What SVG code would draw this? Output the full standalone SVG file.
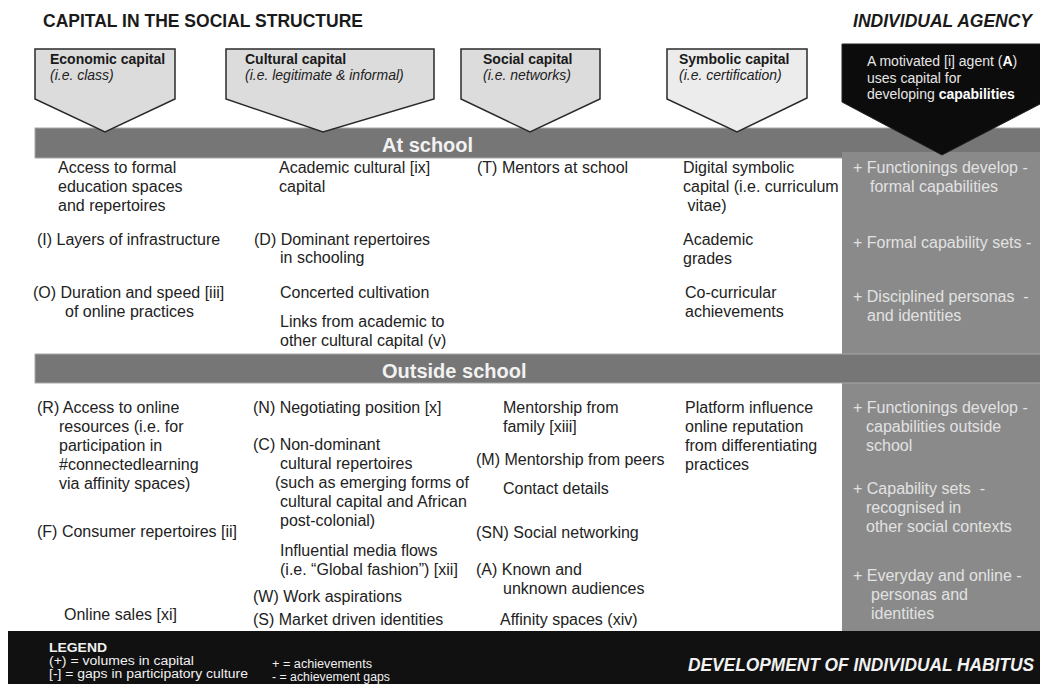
<svg xmlns="http://www.w3.org/2000/svg" width="1040" height="684" viewBox="0 0 1040 684">
<style>
text{font-family:"Liberation Sans",Arial,sans-serif}
.title{font-size:17.5px;font-weight:bold;fill:#1a1a1a}
.titlei{font-size:17.5px;font-weight:bold;font-style:italic;fill:#1a1a1a}
.pent{fill:#dcdcdc;stroke:#2a2a2a;stroke-width:1.5}
.hb{font-size:14px;font-weight:bold;fill:#1a1a1a}
.hi{font-size:14px;font-style:italic;fill:#222}
.bar{fill:#767676;stroke:#a8a8a8;stroke-width:1}
.barT{font-size:20px;font-weight:bold;fill:#f2f2f2}
.t{font-size:16px;fill:#222;white-space:pre}
.g{font-size:16px;fill:#e2e2e2;white-space:pre}
.leg{font-size:12px;fill:#f0f0f0}
</style>

<g id="headings">
<text class="title" x="43" y="27" textLength="320" lengthAdjust="spacingAndGlyphs">CAPITAL IN THE SOCIAL STRUCTURE</text>
<text class="titlei" x="1032" y="27" text-anchor="end">INDIVIDUAL AGENCY</text>
</g>

<g id="bar-at-school">
<rect class="bar" x="35" y="128" width="1010" height="30"/>
</g>

<g id="agency-column">
<rect x="842" y="152" width="200" height="480" fill="#8a8a8a"/>
</g>

<g id="bar-outside-school">
<rect class="bar" x="35" y="354" width="1010" height="29"/>
<text class="barT" x="382" y="378">Outside school</text>
</g>
<text class="barT" x="382" y="152">At school</text>

<g id="economic-capital">
<polygon class="pent" points="35,49 175,49 175,99 105,132 35,99"/>
<text class="hb" x="50" y="64">Economic capital</text>
<text class="hi" x="50" y="80">(i.e. class)</text>
</g>
<g id="cultural-capital">
<polygon class="pent" points="226,49 434,49 434,99 323,132 226,99"/>
<text class="hb" x="245" y="64">Cultural capital</text>
<text class="hi" x="245" y="80">(i.e. legitimate &amp; informal)</text>
</g>
<g id="social-capital">
<polygon class="pent" points="461,49 600,49 600,99 530,132 461,99"/>
<text class="hb" x="483" y="64">Social capital</text>
<text class="hi" x="483" y="80">(i.e. networks)</text>
</g>
<g id="symbolic-capital">
<polygon class="pent" style="fill:#ececec" points="667,49 807,49 807,98 737,132 667,99"/>
<text class="hb" x="679" y="64">Symbolic capital</text>
<text class="hi" x="679" y="80">(i.e. certification)</text>
</g>
<g id="agent">
<polygon points="842,44 1042,44 1042,103 942,155 842,102" fill="#0c0c0c" stroke="#222" stroke-width="1"/>
<text x="867" y="66" style="font-size:14px;fill:#e6e6e6">A motivated [i] agent (<tspan font-weight="bold" fill="#fff">A</tspan>)</text>
<text x="867" y="82.5" style="font-size:14px;fill:#e6e6e6">uses capital for</text>
<text x="867" y="99" style="font-size:14px;fill:#e6e6e6">developing <tspan font-weight="bold" fill="#fff">capabilities</tspan></text>
</g>

<g id="school-economic">
<text class="t" x="58" y="173">Access to formal</text>
<text class="t" x="58" y="192">education spaces</text>
<text class="t" x="58" y="211">and repertoires</text>
<text class="t" x="37" y="245">(I) Layers of infrastructure</text>
<text class="t" x="33" y="298">(O) Duration and speed [iii]</text>
<text class="t" x="65" y="317">of online practices</text>
</g>
<g id="school-cultural">
<text class="t" x="279" y="173">Academic cultural [ix]</text>
<text class="t" x="279" y="192">capital</text>
<text class="t" x="254" y="245">(D) Dominant repertoires</text>
<text class="t" x="280" y="263">in schooling</text>
<text class="t" x="280" y="298">Concerted cultivation</text>
<text class="t" x="280" y="327">Links from academic to</text>
<text class="t" x="280" y="346">other cultural capital (v)</text>
</g>
<g id="school-social">
<text class="t" x="477" y="173">(T) Mentors at school</text>
</g>
<g id="school-symbolic">
<text class="t" x="683" y="173">Digital symbolic</text>
<text class="t" x="683" y="192">capital (i.e. curriculum</text>
<text class="t" x="683" y="211"> vitae)</text>
<text class="t" x="683" y="245">Academic</text>
<text class="t" x="683" y="264">grades</text>
<text class="t" x="685" y="298">Co-curricular</text>
<text class="t" x="685" y="317">achievements</text>
</g>
<g id="school-agency">
<text class="g" x="853" y="173">+ Functionings develop -</text>
<text class="g" x="870" y="192">formal capabilities</text>
<text class="g" x="853" y="248">+ Formal capability sets -</text>
<text class="g" x="853" y="302">+ Disciplined personas  -</text>
<text class="g" x="867" y="321">and identities</text>
</g>

<g id="outside-economic">
<text class="t" x="37" y="413">(R) Access to online</text>
<text class="t" x="59" y="432">resources (i.e. for</text>
<text class="t" x="59" y="451">participation in</text>
<text class="t" x="59" y="470">#connectedlearning</text>
<text class="t" x="59" y="489">via affinity spaces)</text>
<text class="t" x="37" y="537">(F) Consumer repertoires [ii]</text>
<text class="t" x="64" y="620">Online sales [xi]</text>
</g>
<g id="outside-cultural">
<text class="t" x="253" y="413">(N) Negotiating position [x]</text>
<text class="t" x="253" y="450">(C) Non-dominant</text>
<text class="t" x="280" y="469">cultural repertoires</text>
<text class="t" x="275" y="488">(such as emerging forms of</text>
<text class="t" x="280" y="507">cultural capital and African</text>
<text class="t" x="280" y="526">post-colonial)</text>
<text class="t" x="280" y="556">Influential media flows</text>
<text class="t" x="280" y="575">(i.e. “Global fashion”) [xii]</text>
<text class="t" x="253" y="602">(W) Work aspirations</text>
<text class="t" x="253" y="625">(S) Market driven identities</text>
</g>
<g id="outside-social">
<text class="t" x="503" y="413">Mentorship from</text>
<text class="t" x="503" y="432">family [xiii]</text>
<text class="t" x="476" y="465">(M) Mentorship from peers</text>
<text class="t" x="503" y="494">Contact details</text>
<text class="t" x="476" y="538">(SN) Social networking</text>
<text class="t" x="476" y="575">(A) Known and</text>
<text class="t" x="503" y="594">unknown audiences</text>
<text class="t" x="500" y="625">Affinity spaces (xiv)</text>
</g>
<g id="outside-symbolic">
<text class="t" x="685" y="413">Platform influence</text>
<text class="t" x="685" y="432">online reputation</text>
<text class="t" x="685" y="451">from differentiating</text>
<text class="t" x="685" y="470">practices</text>
</g>
<g id="outside-agency">
<text class="g" x="853" y="413">+ Functionings develop -</text>
<text class="g" x="866" y="432">capabilities outside</text>
<text class="g" x="866" y="451">school</text>
<text class="g" x="853" y="494">+ Capability sets  -</text>
<text class="g" x="866" y="513">recognised in</text>
<text class="g" x="866" y="532">other social contexts</text>
<text class="g" x="853" y="581">+ Everyday and online -</text>
<text class="g" x="871" y="600">personas and</text>
<text class="g" x="871" y="619">identities</text>
</g>

<g id="legend">
<rect x="8" y="631" width="1034" height="55" fill="#111"/>
<text class="leg" x="49" y="652" font-weight="bold" style="font-size:13px" textLength="58" lengthAdjust="spacingAndGlyphs">LEGEND</text>
<text class="leg" x="49" y="665" textLength="145" lengthAdjust="spacingAndGlyphs">(+) = volumes in capital</text>
<text class="leg" x="49" y="678" textLength="199" lengthAdjust="spacingAndGlyphs">[-] = gaps in participatory culture</text>
<text class="leg" x="272" y="668" textLength="100" lengthAdjust="spacingAndGlyphs">+ = achievements</text>
<text class="leg" x="272" y="681" textLength="118" lengthAdjust="spacingAndGlyphs">- = achievement gaps</text>
<text x="1034" y="671" text-anchor="end" textLength="346" lengthAdjust="spacingAndGlyphs" style="font-size:17.5px;font-weight:bold;font-style:italic;fill:#f2f2f2">DEVELOPMENT OF INDIVIDUAL HABITUS</text>
</g>

<g id="connectors"/>
</svg>
